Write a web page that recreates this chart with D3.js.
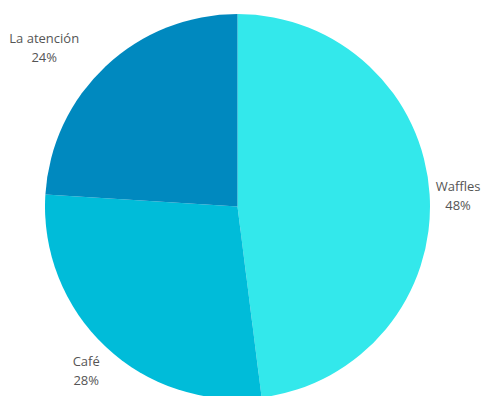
<!DOCTYPE html>
<html>
<head>
<meta charset="utf-8">
<script src="https://cdn.jsdelivr.net/npm/d3@7"></script>
<style>
  html, body { margin: 0; padding: 0; background: #ffffff; }
  svg { display: block; }
  text { font-family: "Open Sans", "Noto Sans", sans-serif; font-size: 13px; fill: #555555; }
</style>
</head>
<body>
<svg id="chart" width="482" height="396"></svg>
<script>
// Survey share by category
const categories = ["Waffles", "Café", "La atención"];
const values = [48, 28, 24];
const percentLabels = ["48%", "28%", "24%"];
const colors = ["#33E8EB", "#00BCD9", "#0089BF"];

const width = 482, height = 396;
const cx = 237.5, cy = 206.5, radius = 192.5, labelRadius = 221;

const svg = d3.select("#chart");
const g = svg.append("g").attr("transform", `translate(${cx},${cy})`);

const pie = d3.pie().sort(null).value(d => d.value);
const arcs = pie(categories.map((c, i) => ({ name: c, value: values[i], pct: percentLabels[i], color: colors[i] })));

const arc = d3.arc().innerRadius(0).outerRadius(radius);
const labelArc = d3.arc().innerRadius(labelRadius).outerRadius(labelRadius);

g.selectAll("path.slice")
  .data(arcs)
  .join("path")
  .attr("class", "slice")
  .attr("d", arc)
  .attr("fill", d => d.data.color);

// Labels sit just outside the rim; the upper-left label is pushed further out
const labels = g.selectAll("g.label")
  .data(arcs)
  .join("g")
  .attr("class", "label")
  .attr("transform", d => {
    const [x, y] = labelArc.centroid(d);
    const mid = (d.startAngle + d.endAngle) / 2;
    const shift = (mid > 1.5 * Math.PI) ? -42 : 0;
    return `translate(${x + shift},${y})`;
  });

labels.append("text")
  .attr("text-anchor", "middle")
  .attr("y", -2)
  .text(d => d.data.name);

labels.append("text")
  .attr("text-anchor", "middle")
  .attr("y", 17)
  .text(d => d.data.pct);
</script>
</body>
</html>
